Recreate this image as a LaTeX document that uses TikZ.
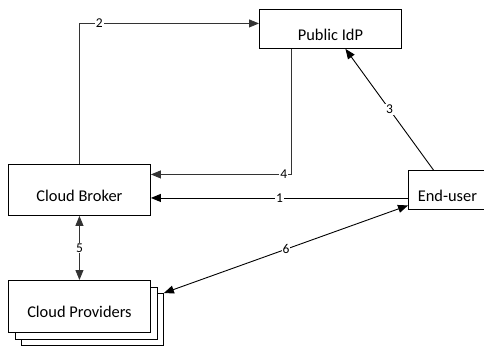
\documentclass[tikz,border=0pt]{standalone}
\usepackage{fontspec}
\setmainfont{Carlito}
\usetikzlibrary{arrows.meta,shadows}
\begin{document}
\begin{tikzpicture}[x=1pt,y=1pt,
  box/.style={draw=black,line width=0.9pt,fill=white,inner sep=0pt,anchor=north west},
  boxtext/.style={font=\fontsize{16.4}{19}\selectfont},
  conn/.style={line width=0.9pt,-{Triangle[length=10pt,width=8pt]}},
  dconn/.style={line width=0.9pt,{Triangle[length=10pt,width=8pt]}-{Triangle[length=10pt,width=8pt]}},
  lbl/.style={fill=white,inner sep=1pt,font=\fontsize{13.5}{15}\selectfont},
  grayline/.style={draw=black!80}]
\useasboundingbox (0,0) rectangle (484,-345);
\node[box,minimum width=142pt,minimum height=39pt,
  label={[boxtext,yshift=-5.5pt]center:Public IdP}] (idp) at (259,-9) {};
\node[box,minimum width=142pt,minimum height=51pt,
  label={[boxtext,yshift=-5.5pt]center:Cloud Broker}] (broker) at (8,-164) {};
\node[box,minimum width=78pt,minimum height=39pt,
  label={[boxtext,yshift=-5.5pt]center:End-user}] (user) at (408,-170) {};
\node[box,minimum width=142pt,minimum height=52pt,
  copy shadow={shadow xshift=13pt,shadow yshift=-12.5pt},
  copy shadow={shadow xshift=6.5pt,shadow yshift=-6.5pt},
  label={[boxtext,yshift=-5.5pt]center:Cloud Providers}] (prov) at (8,-280) {};
% 1
\draw[conn] ([yshift=-8pt]user.west) -- node[lbl]{1} ([yshift=-8pt]broker.east);
% 2
\draw[conn,grayline] (broker.north) |- node[lbl,pos=0.555]{2} ([yshift=5.5pt]idp.west);
% 3
\draw[conn] ([xshift=-14pt]user.north) -- node[lbl]{3} ([xshift=15pt]idp.south);
% 4
\draw[conn,grayline] ([xshift=-39pt]idp.south) |- node[lbl,pos=0.527]{4} ([yshift=15.5pt]broker.east);
% 5
\draw[dconn,grayline] (broker.south) -- node[lbl]{5} (prov.north);
% 6
\draw[dconn] ([yshift=-15.5pt]user.west) -- node[lbl]{6} ([xshift=13pt,yshift=-13pt]prov.north east);
\end{tikzpicture}
\end{document}
